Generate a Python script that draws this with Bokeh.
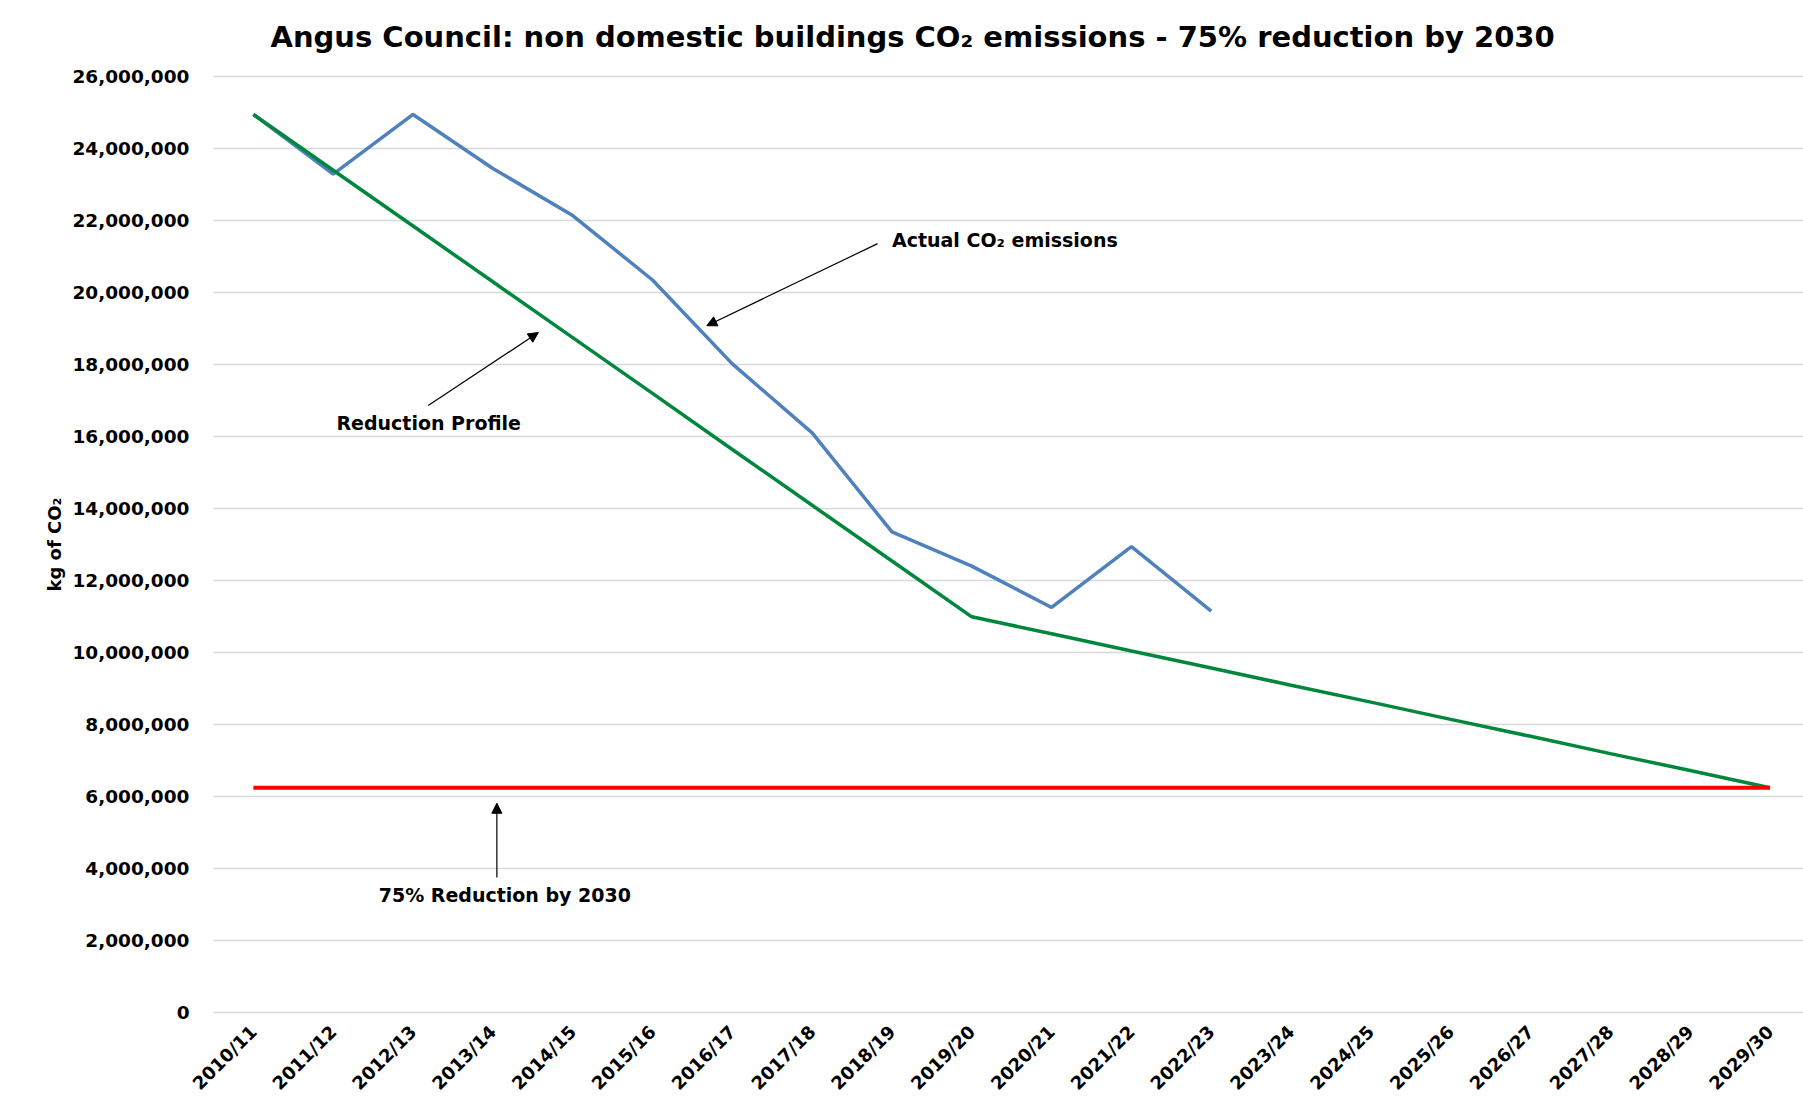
from bokeh.plotting import figure
from bokeh.models import (Range1d, FixedTicker, NumeralTickFormatter, Label, Arrow,
                          NormalHead)
from bokeh.embed import file_html
from bokeh.resources import INLINE
import math

categories = ["2010/11", "2011/12", "2012/13", "2013/14", "2014/15", "2015/16", "2016/17",
              "2017/18", "2018/19", "2019/20", "2020/21", "2021/22", "2022/23", "2023/24",
              "2024/25", "2025/26", "2026/27", "2027/28", "2028/29", "2029/30"]

actual = [24950000, 23290000, 24950000, 23450000, 22140000, 20350000, 18020000,
          16100000, 13350000, 12400000, 11250000, 12940000, 11150000]

profile = [24950000, 23400000, 21850000, 20300000, 18750000, 17200000, 15640000,
           14090000, 12540000, 10990000, 10520000, 10040000, 9570000, 9090000,
           8620000, 8140000, 7670000, 7190000, 6720000, 6240000]

target = [6240000] * 20

y_ticks = [0, 2000000, 4000000, 6000000, 8000000, 10000000, 12000000, 14000000,
           16000000, 18000000, 20000000, 22000000, 24000000, 26000000]

title_text = "Angus Council: non domestic buildings CO\u2082 emissions - 75% reduction by 2030"
y_label = "kg of CO\u2082"

FONT = "DejaVu Sans"

xs_all = list(range(len(categories)))

p = figure(width=1803, height=1108, output_backend="svg", toolbar_location=None,
           x_range=Range1d(-0.5, 19.42), y_range=Range1d(-60000, 26060000),
           min_border_left=213, min_border_right=0, min_border_top=74,
           min_border_bottom=94, background_fill_color="white",
           border_fill_color="white")
p.outline_line_color = None

# title
p.title.text = title_text
p.title.align = "left"
p.title.offset = 57
p.title.text_font = FONT
p.title.text_font_style = "bold"
p.title.text_font_size = "29px"
p.title.text_color = "black"
p.title.vertical_align = "top"
p.title.standoff = 38

# axes
p.xaxis.ticker = FixedTicker(ticks=xs_all)
p.xaxis.major_label_overrides = {i: c for i, c in enumerate(categories)}
p.xaxis.major_label_orientation = math.pi / 4
p.xaxis.major_label_text_font = FONT
p.xaxis.major_label_text_font_style = "bold"
p.xaxis.major_label_text_font_size = "18px"
p.xaxis.major_label_text_color = "black"
p.xaxis.axis_line_color = None
p.xaxis.major_tick_line_color = None
p.xaxis.minor_tick_line_color = None
p.xaxis.major_label_standoff = 8

p.yaxis.ticker = FixedTicker(ticks=y_ticks)
p.yaxis.formatter = NumeralTickFormatter(format="0,0")
p.yaxis.major_label_text_font = FONT
p.yaxis.major_label_text_font_style = "bold"
p.yaxis.major_label_text_font_size = "18.5px"
p.yaxis.major_label_text_color = "black"
p.yaxis.axis_line_color = None
p.yaxis.major_tick_line_color = None
p.yaxis.minor_tick_line_color = None
p.yaxis.major_label_standoff = 18
p.yaxis.axis_label = y_label
p.yaxis.axis_label_text_font = FONT
p.yaxis.axis_label_text_font_style = "bold"
p.yaxis.axis_label_text_font_size = "18px"
p.yaxis.axis_label_text_color = "black"
p.yaxis.axis_label_standoff = 4

p.xgrid.grid_line_color = None
p.ygrid.grid_line_color = "#d9d9d9"
p.ygrid.grid_line_width = 1.3

# series
p.line(xs_all[:len(actual)], actual, line_color="#4f81bd", line_width=3.5)
p.line(xs_all, profile, line_color="#00873c", line_width=3.5)
p.line(xs_all, target, line_color="#ff0000", line_width=4)

# annotations
ann_style = dict(text_font=FONT, text_font_style="bold", text_font_size="19px",
                 text_color="black", text_baseline="middle", text_align="left")
p.add_layout(Label(x=8.0, y=21470000, text="Actual CO\u2082 emissions", **ann_style))
p.add_layout(Label(x=1.04, y=16390000, text="Reduction Profile", **ann_style))
p.add_layout(Label(x=1.57, y=3250000, text="75% Reduction by 2030", **ann_style))

head = dict(size=10, fill_color="black", line_color="black")
p.add_layout(Arrow(end=NormalHead(**head), x_start=7.82, y_start=21360000,
                   x_end=5.68, y_end=19080000, line_width=1.2, line_color="black"))
p.add_layout(Arrow(end=NormalHead(**head), x_start=2.19, y_start=16860000,
                   x_end=3.57, y_end=18890000, line_width=1.2, line_color="black"))
p.add_layout(Arrow(end=NormalHead(**head), x_start=3.05, y_start=3750000,
                   x_end=3.05, y_end=5810000, line_width=1.2, line_color="black"))

open("out.html", "w").write(file_html(p, INLINE))
